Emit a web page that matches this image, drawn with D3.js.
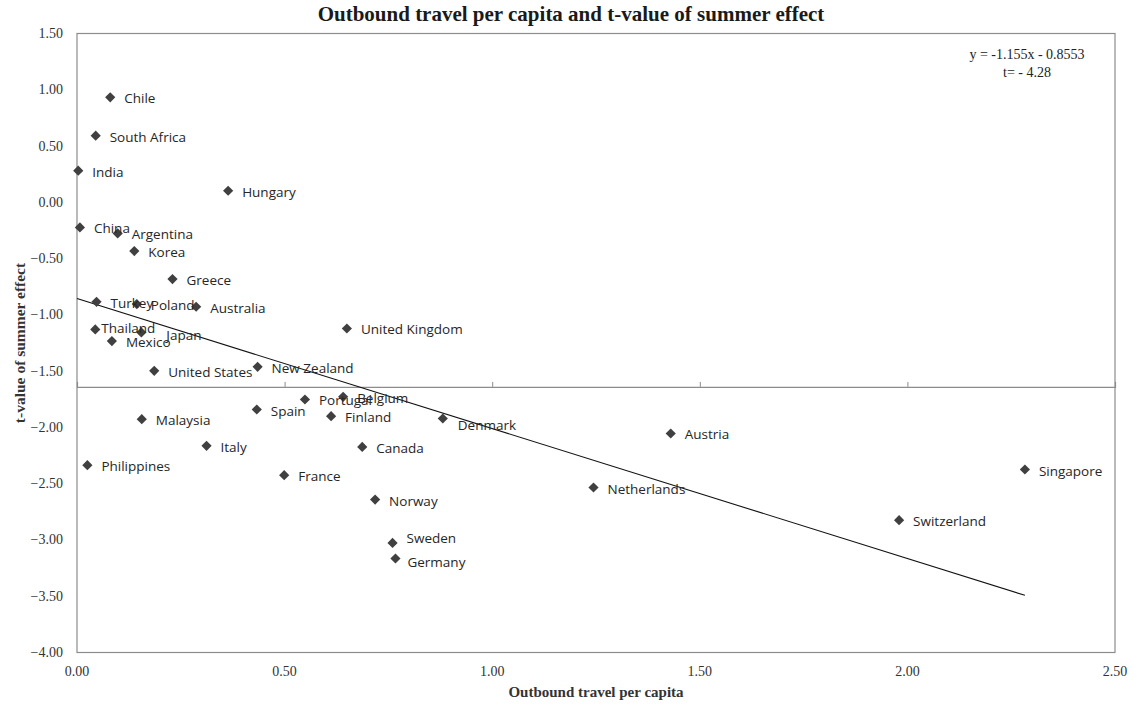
<!DOCTYPE html>
<html>
<head>
<meta charset="utf-8">
<script src="https://cdn.jsdelivr.net/npm/d3@7"></script>
<style>
  html, body { margin: 0; padding: 0; background: #fff; }
  svg { display: block; }
</style>
</head>
<body>
<svg id="chart" width="1143" height="705"></svg>
<script>
// Countries, outbound travel per capita and t-value of the summer effect
const countries = [
  "Chile", "South Africa", "India", "Hungary", "China", "Argentina", "Korea",
  "Greece", "Turkey", "Poland", "Australia", "Thailand", "Japan", "Mexico",
  "United States", "New Zealand", "United Kingdom", "Portugal", "Belgium",
  "Spain", "Finland", "Malaysia", "Italy", "Canada", "Philippines", "France",
  "Norway", "Sweden", "Germany", "Denmark", "Austria", "Netherlands",
  "Singapore", "Switzerland"
];
const travelPerCapita = [
  0.080, 0.045, 0.003, 0.364, 0.007, 0.098, 0.138,
  0.230, 0.047, 0.144, 0.287, 0.044, 0.155, 0.084,
  0.186, 0.435, 0.650, 0.549, 0.641,
  0.433, 0.612, 0.156, 0.312, 0.687, 0.025, 0.499,
  0.718, 0.760, 0.767, 0.881, 1.430, 1.244,
  2.283, 1.980
];
const summerT = [
  0.933, 0.592, 0.281, 0.103, -0.223, -0.276, -0.433,
  -0.682, -0.884, -0.904, -0.928, -1.129, -1.156, -1.233,
  -1.497, -1.462, -1.121, -1.752, -1.728,
  -1.841, -1.900, -1.927, -2.164, -2.173, -2.336, -2.424,
  -2.641, -3.026, -3.165, -1.921, -2.054, -2.534,
  -2.374, -2.824
];

// Linear fit: y = slope * x + intercept
const slope = -1.155;
const intercept = -0.8553;
const fitLabel = "y = -1.155x - 0.8553";
const tLabel = "t= - 4.28";

const xTicks = [0, 0.5, 1.0, 1.5, 2.0, 2.5];
const yTicks = [1.5, 1.0, 0.5, 0, -0.5, -1.0, -1.5, -2.0, -2.5, -3.0, -3.5, -4.0];
const xCross = -1.64; // value where the horizontal axis crosses

// Per-label nudges where labels would otherwise collide
const labelNudge = {
  "Thailand": [-8, -2],
  "Japan": [11, 2],
  "Denmark": [1, 5],
  "Sweden": [0, -6],
  "Germany": [-2, 2]
};

const svg = d3.select("#chart");
const plot = { left: 77, right: 1115, top: 33.5, bottom: 652.5 };

const x = d3.scaleLinear().domain([0, 2.5]).range([plot.left, plot.right]);
const y = d3.scaleLinear().domain([-4, 1.5]).range([plot.bottom, plot.top]);

const serif = "'Liberation Serif', 'Times New Roman', serif";
const sans = "'Open Sans', 'Noto Sans', sans-serif";
const axisColor = "#8c8c8c";

// Title
svg.append("text")
  .attr("x", 571).attr("y", 21)
  .attr("text-anchor", "middle")
  .attr("font-family", serif).attr("font-weight", "bold")
  .attr("font-size", 21).attr("fill", "#1a1a1a")
  .text("Outbound travel per capita and t-value of summer effect");

// Plot frame
svg.append("rect")
  .attr("x", plot.left).attr("y", plot.top)
  .attr("width", plot.right - plot.left).attr("height", plot.bottom - plot.top)
  .attr("fill", "none").attr("stroke", axisColor).attr("stroke-width", 1.2);

// Horizontal axis line at the crossing value, ticks pointing up
const xAxis = d3.axisTop(x).tickValues(xTicks).tickSize(5).tickFormat("");
const gx = svg.append("g")
  .attr("transform", `translate(0,${y(xCross)})`)
  .call(xAxis);
gx.select(".domain").attr("stroke", axisColor).attr("stroke-width", 1.2);
gx.selectAll(".tick line").attr("stroke", axisColor);

// X tick labels along the bottom
svg.append("g").selectAll("text")
  .data(xTicks).join("text")
  .attr("x", d => x(d)).attr("y", 676)
  .attr("text-anchor", "middle")
  .attr("font-family", serif).attr("font-size", 14).attr("fill", "#333")
  .text(d => d3.format(".2f")(d));

// Y tick labels
svg.append("g").selectAll("text")
  .data(yTicks).join("text")
  .attr("x", 63).attr("y", d => y(d) + 4.5)
  .attr("text-anchor", "end")
  .attr("font-family", serif).attr("font-size", 14).attr("fill", "#333")
  .text(d => d3.format(".2f")(d));

// Axis titles
svg.append("text")
  .attr("x", (plot.left + plot.right) / 2).attr("y", 697)
  .attr("text-anchor", "middle")
  .attr("font-family", serif).attr("font-weight", "bold")
  .attr("font-size", 15).attr("fill", "#333")
  .text("Outbound travel per capita");

svg.append("text")
  .attr("transform", `translate(25,${(plot.top + plot.bottom) / 2}) rotate(-90)`)
  .attr("text-anchor", "middle")
  .attr("font-family", serif).attr("font-weight", "bold")
  .attr("font-size", 15.5).attr("fill", "#333")
  .text("t-value of summer effect");

// Trend line over the data's x range
const xMax = d3.max(travelPerCapita);
const lineData = [0, xMax].map(v => [v, slope * v + intercept]);
svg.append("path")
  .datum(lineData)
  .attr("d", d3.line().x(d => x(d[0])).y(d => y(d[1])))
  .attr("fill", "none").attr("stroke", "#111").attr("stroke-width", 1.1);

// Points and labels
const points = countries.map((c, i) => ({ name: c, x: travelPerCapita[i], y: summerT[i] }));
const diamond = d3.symbol().type(d3.symbolSquare).size(52);

svg.append("g").selectAll("path")
  .data(points).join("path")
  .attr("d", diamond)
  .attr("transform", d => `translate(${x(d.x)},${y(d.y)}) rotate(45)`)
  .attr("fill", "#404040");

svg.append("g").selectAll("text")
  .data(points).join("text")
  .attr("x", d => x(d.x) + 14 + (labelNudge[d.name] ? labelNudge[d.name][0] : 0))
  .attr("y", d => y(d.y) + 6 + (labelNudge[d.name] ? labelNudge[d.name][1] : 0))
  .attr("font-family", sans).attr("font-size", 13.5).attr("fill", "#262626")
  .text(d => d.name);

// Regression equation and t statistic
svg.append("text")
  .attr("x", 1027).attr("y", 59)
  .attr("text-anchor", "middle")
  .attr("font-family", serif).attr("font-size", 14).attr("fill", "#222")
  .text(fitLabel);
svg.append("text")
  .attr("x", 1027).attr("y", 77)
  .attr("text-anchor", "middle")
  .attr("font-family", serif).attr("font-size", 14).attr("fill", "#222")
  .text(tLabel);
</script>
</body>
</html>
